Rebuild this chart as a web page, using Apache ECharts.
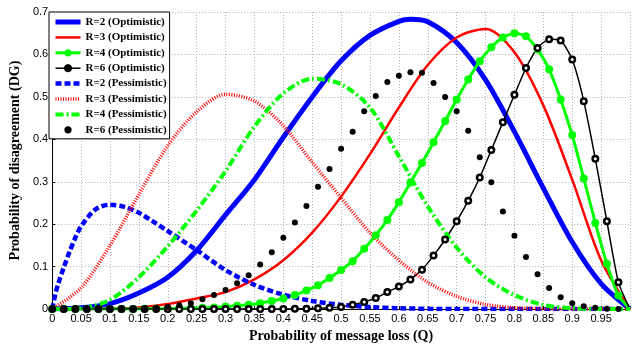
<!DOCTYPE html>
<html><head><meta charset="utf-8">
<script src="https://cdn.jsdelivr.net/npm/echarts@6/dist/echarts.min.js"></script>
<style>html,body{margin:0;padding:0;background:#fff}#c{width:633px;height:348px}</style>
</head><body><div id="c"></div>
<script>
// ---- data ----
const xTicks = [0,0.05,0.1,0.15,0.2,0.25,0.3,0.35,0.4,0.45,0.5,0.55,0.6,0.65,0.7,0.75,0.8,0.85,0.9,0.95];
const yTicks = [0,0.1,0.2,0.3,0.4,0.5,0.6,0.7];
const names = ['R=2 (Optimistic)','R=3 (Optimistic)','R=4 (Optimistic)','R=6 (Optimistic)',
               'R=2 (Pessimistic)','R=3 (Pessimistic)','R=4 (Pessimistic)','R=6 (Pessimistic)'];

const qMarks = [0,0.02,0.04,0.06,0.08,0.1,0.12,0.14,0.16,0.18,0.2,0.22,0.24,0.26,0.28,0.3,0.32,0.34,0.36,0.38,0.4,0.42,0.44,0.46,0.48,0.5,0.52,0.54,0.56,0.58,0.6,0.62,0.64,0.66,0.68,0.7,0.72,0.74,0.76,0.78,0.8,0.82,0.84,0.86,0.88,0.9,0.92,0.94,0.96,0.98,1];
const q05 = [0,0.05,0.1,0.15,0.2,0.25,0.3,0.35,0.4,0.45,0.5,0.55,0.6,0.65,0.7,0.75,0.8,0.85,0.9,0.95,1];

const qR2opt = [0,0.05,0.1,0.15,0.2,0.25,0.3,0.35,0.4,0.45,0.5,0.55,0.6,0.62,0.65,0.7,0.75,0.8,0.85,0.9,0.95,1];
const vR2opt = [0,0.003,0.013,0.038,0.075,0.138,0.222,0.305,0.405,0.5,0.585,0.645,0.678,0.683,0.677,0.628,0.54,0.418,0.285,0.158,0.06,0];

const vR3opt = [0,0,0.001,0.004,0.012,0.025,0.04,0.07,0.115,0.18,0.265,0.365,0.475,0.575,0.64,0.66,0.605,0.48,0.305,0.115,0];

const vR4opt = [0,0,0,0,0,0,0,0,0.001,0.001,0.001,0.002,0.002,0.003,0.004,0.006,0.008,0.01,0.014,0.019,
                0.025,0.033,0.044,0.056,0.073,0.092,0.113,0.142,0.174,0.21,0.252,0.298,0.344,0.393,0.443,
                0.494,0.541,0.584,0.617,0.64,0.65,0.643,0.612,0.565,0.494,0.41,0.308,0.203,0.107,0.032,0];

const vR6opt = [0,0,0,0,0,0,0,0,0,0,0,0,0,0,0,0,0,0,0,0,
                0,0.001,0.001,0.002,0.003,0.005,0.01,0.017,0.026,0.04,0.053,0.07,0.093,0.126,0.164,
                0.207,0.255,0.31,0.375,0.44,0.505,0.568,0.615,0.636,0.633,0.588,0.49,0.354,0.207,0.063,0];

const qR2pes = [0,0.005,0.01,0.02,0.03,0.04,0.05,0.075,0.1,0.125,0.15,0.175,0.2,0.25,0.3,0.35,0.4,0.45,0.5,0.55,0.6,0.7,0.8,0.9,1];
const vR2pes = [0,0.032,0.058,0.098,0.135,0.168,0.195,0.235,0.246,0.241,0.227,0.206,0.184,0.139,0.092,0.057,0.034,0.019,0.01,0.005,0.002,0,0,0,0];

const vR3pes = [0,0.05,0.15,0.27,0.385,0.465,0.506,0.49,0.432,0.346,0.262,0.18,0.115,0.063,0.03,0.011,0.003,0.001,0,0,0];

const vR4pes = [0,0.002,0.022,0.075,0.148,0.232,0.325,0.43,0.508,0.543,0.53,0.475,0.36,0.242,0.145,0.075,0.033,0.01,0.002,0,0];

const vR6pes = [0,0,0,0,0,0,0,0,0,0,0.005,0.009,0.014,0.023,0.033,0.045,0.061,0.08,0.105,0.134,
                0.168,0.204,0.243,0.288,0.33,0.378,0.418,0.466,0.502,0.535,0.55,0.558,0.557,0.533,0.5,
                0.466,0.42,0.358,0.299,0.23,0.173,0.123,0.082,0.05,0.028,0.014,0.007,0.003,0.001,0,0];

// ---- build ----
const pairs = (q, v) => q.map((x, i) => [x, v[i]]);
const markPairs = (q, v) => q.map((x, i) => x >= 0.999 ? {value: [x, v[i]], symbol: 'none'} : [x, v[i]]);
const fmt = v => (v >= 0.999 ? '' : String(+v.toFixed(2)));

const serif = "'Liberation Serif','Times New Roman',serif";
const sans = "'Liberation Sans',Arial,sans-serif";

const lineStyles = [
  {color: '#0000ff', width: 5},
  {color: '#ff0000', width: 2.5},
  {color: '#00ff00', width: 3},
  {color: '#000', width: 1.5},
  {color: '#0000ff', width: 4.5, type: [6, 3]},
  {color: '#ff0000', width: 3.5, type: [1, 1.5]},
  {color: '#00ff00', width: 4, type: [8, 3, 2, 3]},
  {color: '#000', width: 1, opacity: 0}
];

const series = [
  {name: names[0], type: 'line', data: pairs(qR2opt, vR2opt), smooth: 0.3, symbol: 'none',
   lineStyle: lineStyles[0], itemStyle: {color: '#0000ff'}},
  {name: names[1], type: 'line', data: pairs(q05, vR3opt), smooth: 0.3, symbol: 'none',
   lineStyle: lineStyles[1], itemStyle: {color: '#ff0000'}},
  {name: names[2], type: 'line', data: markPairs(qMarks, vR4opt), smooth: 0.2, symbol: 'circle', symbolSize: 8,
   lineStyle: lineStyles[2], itemStyle: {color: '#00ff00'}},
  {name: names[3], type: 'line', data: markPairs(qMarks, vR6opt), smooth: 0.2, symbol: 'circle', symbolSize: 5.5,
   lineStyle: lineStyles[3], itemStyle: {color: '#fff', borderColor: '#000', borderWidth: 2.5}},
  {name: names[4], type: 'line', data: pairs(qR2pes, vR2pes), smooth: 0.3, symbol: 'none',
   lineStyle: lineStyles[4], itemStyle: {color: '#0000ff'}},
  {name: names[5], type: 'line', data: pairs(q05, vR3pes), smooth: 0.3, symbol: 'none',
   lineStyle: lineStyles[5], itemStyle: {color: '#ff0000'}},
  {name: names[6], type: 'line', data: pairs(q05, vR4pes), smooth: 0.3, symbol: 'none',
   lineStyle: lineStyles[6], itemStyle: {color: '#00ff00'}},
  {name: names[7], type: 'line', data: markPairs(qMarks, vR6pes), symbol: 'circle', symbolSize: 6,
   lineStyle: lineStyles[7], itemStyle: {color: '#000'}}
];
series.forEach(s => { s.animation = false; s.silent = true; });

const legendData = names.map((n, i) => {
  const item = {name: n, lineStyle: Object.assign({}, lineStyles[i])};
  if ([0, 1, 4, 5, 6].includes(i)) item.itemStyle = {opacity: 0};
  if (i === 3) item.itemStyle = {color: '#000', borderColor: '#000', borderWidth: 1};
  return item;
});

const chart = echarts.init(document.getElementById('c'), null, {renderer: 'canvas'});
chart.setOption({
  animation: false,
  backgroundColor: '#fff',
  grid: {left: 50, top: 12, width: 585, height: 299, containLabel: false},
  xAxis: {
    type: 'value', min: 0, max: 1, interval: 0.05,
    name: 'Probability of message loss (Q)', nameLocation: 'middle', nameGap: 15,
    nameTextStyle: {fontFamily: serif, fontWeight: 'bold', fontSize: 14, color: '#000'},
    axisLine: {show: true, lineStyle: {color: '#000', width: 1}},
    axisTick: {show: true, inside: true, length: 3, lineStyle: {color: '#000'}},
    axisLabel: {fontFamily: sans, fontSize: 11, color: '#000', margin: 4, formatter: fmt},
    splitLine: {show: true, lineStyle: {color: '#b0b0b0', width: 1, type: [1, 2]}}
  },
  yAxis: {
    type: 'value', min: 0, max: 0.7, interval: 0.1,
    name: 'Probability of disagreement (DG)', nameLocation: 'middle', nameGap: 20,
    nameTextStyle: {fontFamily: serif, fontWeight: 'bold', fontSize: 14, color: '#000'},
    axisLine: {show: true, lineStyle: {color: '#000', width: 1}},
    axisTick: {show: true, inside: true, length: 3, lineStyle: {color: '#000'}},
    axisLabel: {fontFamily: sans, fontSize: 11, color: '#000', margin: 4, formatter: v => String(+v.toFixed(2))},
    splitLine: {show: true, lineStyle: {color: '#b0b0b0', width: 1, type: [1, 2]}}
  },
  legend: {
    data: legendData, orient: 'vertical', left: 49, top: 12,
    padding: [4, 3, 3, 4], itemGap: 3.4, itemWidth: 25, itemHeight: 9,
    backgroundColor: '#fff', borderColor: '#000', borderWidth: 1,
    selectedMode: false,
    textStyle: {fontFamily: serif, fontWeight: 'bold', fontSize: 11, color: '#000', lineHeight: 12}
  },
  series: series
});
</script>
</body></html>
